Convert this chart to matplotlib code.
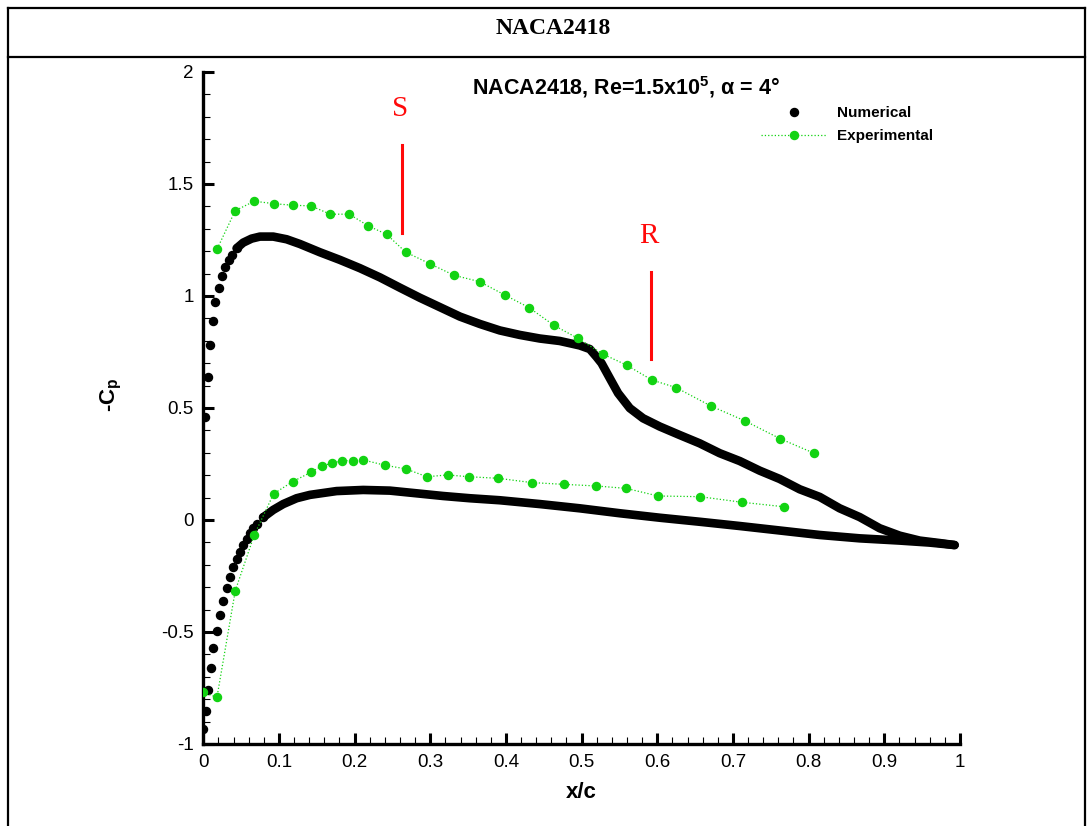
import matplotlib

matplotlib.use("Agg")
import matplotlib.pyplot as plt
from matplotlib.lines import Line2D
from matplotlib.ticker import MultipleLocator

# numerical -Cp, suction side (leading edge -> trailing edge)
num_up_x = [0.0026, 0.0062, 0.0092, 0.0124, 0.0159, 0.0203, 0.0247, 0.0291, 0.0336, 0.0375,
            0.0441, 0.0528, 0.0639, 0.0749, 0.0925, 0.1102, 0.1277, 0.1542, 0.1806, 0.2070,
            0.2334, 0.2598, 0.2862, 0.3127, 0.3391, 0.3655, 0.3919, 0.4183, 0.4447, 0.4711,
            0.4976, 0.5108, 0.5197, 0.5263, 0.5372, 0.5482, 0.5637, 0.5812, 0.6033, 0.6297,
            0.6561, 0.6825, 0.7090, 0.7354, 0.7618, 0.7882, 0.8146, 0.8410, 0.8674, 0.8939,
            0.9203, 0.9467, 0.9731, 0.9929]
num_up_cp = [0.461, 0.640, 0.780, 0.888, 0.972, 1.036, 1.088, 1.129, 1.161, 1.184,
             1.213, 1.238, 1.256, 1.265, 1.265, 1.253, 1.232, 1.195, 1.161, 1.124,
             1.083, 1.037, 0.992, 0.950, 0.908, 0.875, 0.846, 0.826, 0.810, 0.799,
             0.779, 0.763, 0.728, 0.700, 0.633, 0.566, 0.499, 0.454, 0.417, 0.379,
             0.342, 0.298, 0.263, 0.220, 0.183, 0.137, 0.103, 0.052, 0.013, -0.037,
             -0.070, -0.092, -0.103, -0.112]

# numerical -Cp, pressure side
num_lo_x = [0.0000, 0.0032, 0.0066, 0.0102, 0.0132, 0.0184, 0.0222, 0.0267, 0.0313, 0.0357,
            0.0396, 0.0441, 0.0485, 0.0528, 0.0573, 0.0617, 0.0661, 0.0705, 0.0793, 0.0925,
            0.1057, 0.1234, 0.1410, 0.1762, 0.2114, 0.2466, 0.2819, 0.3170, 0.3523, 0.3919,
            0.4448, 0.4976, 0.5504, 0.6033, 0.6561, 0.7090, 0.7618, 0.8146, 0.8674, 0.9203,
            0.9599, 0.9929]
num_lo_cp = [-0.934, -0.853, -0.757, -0.662, -0.573, -0.496, -0.424, -0.363, -0.305, -0.256,
             -0.211, -0.174, -0.142, -0.112, -0.086, -0.059, -0.037, -0.018, 0.012, 0.045,
             0.071, 0.097, 0.112, 0.129, 0.134, 0.131, 0.119, 0.107, 0.097, 0.088,
             0.071, 0.052, 0.030, 0.010, -0.008, -0.027, -0.047, -0.067, -0.082, -0.092,
             -0.101, -0.112]

# experimental -Cp
exp_up_x = [0.0185, 0.0423, 0.0674, 0.0930, 0.1181, 0.1423, 0.1678, 0.1929, 0.2180, 0.2423,
            0.2674, 0.2999, 0.3316, 0.3651, 0.3986, 0.4306, 0.4633, 0.4950, 0.5284, 0.5597,
            0.5927, 0.6248, 0.6707, 0.7160, 0.7622, 0.8071]
exp_up_cp = [1.211, 1.381, 1.423, 1.412, 1.405, 1.402, 1.365, 1.365, 1.313, 1.275,
             1.196, 1.143, 1.092, 1.064, 1.004, 0.948, 0.869, 0.811, 0.740, 0.691,
             0.625, 0.591, 0.509, 0.442, 0.363, 0.298]
exp_lo_x = [0.0000, 0.0181, 0.0423, 0.0674, 0.0930, 0.1181, 0.1423, 0.1568, 0.1704, 0.1836,
            0.1982, 0.2114, 0.2404, 0.2678, 0.2955, 0.3229, 0.3510, 0.3897, 0.4338, 0.4765,
            0.5184, 0.5588, 0.6011, 0.6565, 0.7120, 0.7675]
exp_lo_cp = [-0.769, -0.792, -0.316, -0.067, 0.117, 0.171, 0.213, 0.241, 0.254, 0.265,
             0.265, 0.268, 0.244, 0.228, 0.193, 0.201, 0.193, 0.186, 0.167, 0.159,
             0.152, 0.141, 0.107, 0.104, 0.079, 0.059]

# separation / reattachment marks: (label, x, line top, line bottom)
marks = [("S", 0.2625, 1.674, 1.281), ("R", 0.5914, 1.107, 0.719)]

GREEN = "#12d312"
RED = "#ff0a0a"
UP_LE = 11  # points drawn as separate dots near the leading edge
LO_LE = 19

fig = plt.figure(figsize=(10.91, 8.26), dpi=100, facecolor="white")

# table frame around the figure
W, H = 1091.0, 826.0
for x0, y0, x1, y1 in [(8, 8, 1085, 8), (8, 57, 1085, 57), (8, 8, 8, 826), (1085, 8, 1085, 826)]:
    fig.add_artist(Line2D([x0 / W, x1 / W], [1 - y0 / H, 1 - y1 / H], color="black", lw=1.6))
fig.text(553 / W, 1 - 28 / H, "NACA2418", ha="center", va="center", fontsize=17,
         fontweight="bold", family="Liberation Serif")

ax = fig.add_axes([0.1863, 0.0993, 0.6936, 0.8136])
ax.set_xlim(0, 1)
ax.set_ylim(-1, 2)

# numerical: separate dots at the leading edge, merged into a band elsewhere
ax.plot(num_up_x[UP_LE - 1:], num_up_cp[UP_LE - 1:], color="black", lw=6.2,
        solid_capstyle="round", solid_joinstyle="round", zorder=3)
ax.plot(num_lo_x[LO_LE - 1:], num_lo_cp[LO_LE - 1:], color="black", lw=6.2,
        solid_capstyle="round", solid_joinstyle="round", zorder=3)
ax.plot(num_up_x[:UP_LE], num_up_cp[:UP_LE], "o", color="black", ms=5.8, zorder=3, label="Numerical")
ax.plot(num_lo_x[:LO_LE], num_lo_cp[:LO_LE], "o", color="black", ms=5.8, zorder=3)

ax.plot(exp_up_x, exp_up_cp, "o", ls=":", lw=0.9, color=GREEN, ms=5.8, zorder=4, label="Experimental")
ax.plot(exp_lo_x, exp_lo_cp, "o", ls=":", lw=0.9, color=GREEN, ms=5.8, zorder=4)

for name, mx, top, bot in marks:
    ax.plot([mx, mx], [bot, top], color=RED, lw=2.2, zorder=2)
    ax.text(mx - 0.002, top + 0.16, name, color=RED, fontsize=21, family="Liberation Serif",
            ha="center", va="center")

ax.text(0.559, 1.933, "NACA2418, Re=1.5x10$^{\\mathregular{5}}$, \u03b1 = 4\u00b0", ha="center",
        va="center", fontsize=15.5, fontweight="bold", family="Liberation Sans")

ax.legend(loc="upper left", bbox_to_anchor=(0.7367, 0.949), frameon=False, borderpad=0,
          borderaxespad=0, handlelength=4.3, handletextpad=0.7, labelspacing=0.6,
          prop={"family": "Liberation Sans", "weight": "bold", "size": 11})

for spine in ("top", "right"):
    ax.spines[spine].set_visible(False)
for spine in ("left", "bottom"):
    ax.spines[spine].set_linewidth(2.4)

ax.xaxis.set_major_locator(MultipleLocator(0.1))
ax.xaxis.set_minor_locator(MultipleLocator(0.02))
ax.yaxis.set_major_locator(MultipleLocator(0.5))
ax.yaxis.set_minor_locator(MultipleLocator(0.1))
ax.tick_params(which="major", direction="in", length=8, width=2.2, pad=7, labelsize=13.5)
ax.tick_params(which="minor", direction="in", length=5, width=0.8)
ax.xaxis.set_major_formatter(plt.FuncFormatter(lambda v, _: f"{v:g}"))
ax.yaxis.set_major_formatter(plt.FuncFormatter(lambda v, _: f"{v:g}".replace("\u2212", "-")))
for lab in ax.get_xticklabels() + ax.get_yticklabels():
    lab.set_family("Liberation Sans")

ax.set_xlabel("x/c", fontsize=16, fontweight="bold", family="Liberation Sans", labelpad=8)
ax.set_ylabel("-C$_{\\mathregular{p}}$", fontsize=16, fontweight="bold", family="Liberation Sans")
ax.yaxis.set_label_coords(-0.105, 0.519)

fig.savefig("out.png", dpi=100, facecolor="white")
